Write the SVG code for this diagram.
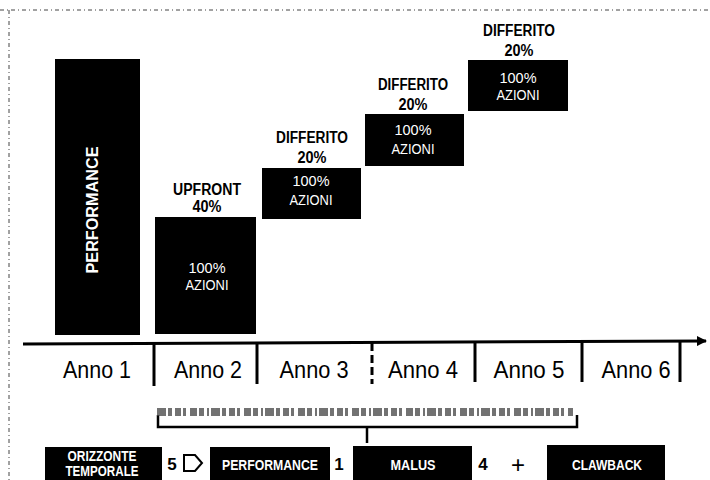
<svg xmlns="http://www.w3.org/2000/svg" width="710" height="480" viewBox="0 0 710 480">
<defs>
<style>
.box{fill:#000;}
.lbl{font-family:"Liberation Sans",Arial,sans-serif;font-weight:bold;font-size:16px;fill:#000;text-anchor:middle;}
.inn{font-family:"Liberation Sans",Arial,sans-serif;font-size:15px;fill:#fff;text-anchor:middle;}
.anno{font-family:"Liberation Sans",Arial,sans-serif;font-size:23px;fill:#000;text-anchor:middle;}
.leg{font-family:"Liberation Sans",Arial,sans-serif;font-weight:bold;font-size:14px;fill:#fff;text-anchor:middle;}
.num{font-family:"Liberation Sans",Arial,sans-serif;font-weight:bold;font-size:17px;fill:#000;text-anchor:middle;}
.plus{font-family:"Liberation Sans",Arial,sans-serif;font-weight:normal;font-size:24px;fill:#000;text-anchor:middle;}
.tick{stroke:#000;stroke-width:3;fill:none;}
.scan{stroke:#444;stroke-width:1;fill:none;stroke-dasharray:4 3 1 3;}
</style>
<marker id="arr" markerWidth="10" markerHeight="10" refX="9" refY="5" orient="auto" markerUnits="userSpaceOnUse" viewBox="0 0 10 10">
<path d="M0,0 L10,5 L0,10 Z" fill="#000"/>
</marker>
</defs>
<rect width="710" height="480" fill="#fff"/>
<line class="scan" x1="0" y1="10" x2="710" y2="10"/>
<line class="scan" x1="9" y1="10" x2="9" y2="480"/>

<g id="connectors">
<line x1="23" y1="344" x2="706" y2="341" stroke="#000" stroke-width="3" marker-end="url(#arr)"/>
<line class="tick" x1="154" y1="343" x2="154" y2="386"/>
<line class="tick" x1="257" y1="343" x2="257" y2="384"/>
<line class="tick" x1="372" y1="343" x2="372" y2="384" stroke-dasharray="8 4" stroke-width="2"/>
<line class="tick" x1="475" y1="342" x2="475" y2="382"/>
<line class="tick" x1="582" y1="342" x2="582" y2="382"/>
<line class="tick" x1="680" y1="342" x2="680" y2="382"/>
<path d="M158,415 L158,427 L577,427 L577,415" stroke="#000" stroke-width="2.5" fill="none"/>
<line x1="367" y1="427" x2="367" y2="443" stroke="#000" stroke-width="2.5"/>
<line x1="157" y1="412" x2="573" y2="412" stroke="#444" stroke-width="8" stroke-dasharray="9 2 4 3 6 2 3 4 7 2 5 3 2 2" opacity="0.75"/>
</g>

<g id="anni">
<text class="anno" x="97" y="378" textLength="68" lengthAdjust="spacingAndGlyphs">Anno 1</text>
<text class="anno" x="208" y="378" textLength="68" lengthAdjust="spacingAndGlyphs">Anno 2</text>
<text class="anno" x="314" y="378" textLength="69" lengthAdjust="spacingAndGlyphs">Anno 3</text>
<text class="anno" x="423" y="378" textLength="70" lengthAdjust="spacingAndGlyphs">Anno 4</text>
<text class="anno" x="529" y="378" textLength="71" lengthAdjust="spacingAndGlyphs">Anno 5</text>
<text class="anno" x="636" y="378" textLength="69" lengthAdjust="spacingAndGlyphs">Anno 6</text>
</g>

<g id="performance">
<rect class="box" x="55" y="59" width="85" height="276"/>
<text font-family="Liberation Sans,Arial,sans-serif" font-weight="bold" font-size="17" fill="#fff" text-anchor="middle" textLength="127" lengthAdjust="spacingAndGlyphs" transform="translate(98,210) rotate(-90)">PERFORMANCE</text>
</g>

<g id="upfront">
<text class="lbl" x="207" y="195" textLength="68" lengthAdjust="spacingAndGlyphs">UPFRONT</text>
<text class="lbl" x="207" y="212" textLength="29" lengthAdjust="spacingAndGlyphs">40%</text>
<rect class="box" x="155" y="217" width="101" height="117"/>
<text class="inn" x="207" y="273" textLength="37" lengthAdjust="spacingAndGlyphs">100%</text>
<text class="inn" x="207" y="290" textLength="43" lengthAdjust="spacingAndGlyphs">AZIONI</text>
</g>

<g id="differito1">
<text class="lbl" x="312" y="143" textLength="72" lengthAdjust="spacingAndGlyphs">DIFFERITO</text>
<text class="lbl" x="312" y="163" textLength="29" lengthAdjust="spacingAndGlyphs">20%</text>
<rect class="box" x="262" y="168" width="99" height="51"/>
<text class="inn" x="311" y="186" textLength="37" lengthAdjust="spacingAndGlyphs">100%</text>
<text class="inn" x="311" y="205" textLength="43" lengthAdjust="spacingAndGlyphs">AZIONI</text>
</g>

<g id="differito2">
<text class="lbl" x="413" y="90" textLength="70" lengthAdjust="spacingAndGlyphs">DIFFERITO</text>
<text class="lbl" x="413" y="110" textLength="29" lengthAdjust="spacingAndGlyphs">20%</text>
<rect class="box" x="365" y="114" width="99" height="52"/>
<text class="inn" x="413" y="135" textLength="37" lengthAdjust="spacingAndGlyphs">100%</text>
<text class="inn" x="413" y="154" textLength="43" lengthAdjust="spacingAndGlyphs">AZIONI</text>
</g>

<g id="differito3">
<text class="lbl" x="519" y="36" textLength="72" lengthAdjust="spacingAndGlyphs">DIFFERITO</text>
<text class="lbl" x="519" y="56" textLength="29" lengthAdjust="spacingAndGlyphs">20%</text>
<rect class="box" x="468" y="60" width="100" height="51"/>
<text class="inn" x="518" y="83" textLength="37" lengthAdjust="spacingAndGlyphs">100%</text>
<text class="inn" x="518" y="100" textLength="43" lengthAdjust="spacingAndGlyphs">AZIONI</text>
</g>

<g id="orizzonte">
<rect class="box" x="45" y="447" width="117" height="33"/>
<text class="leg" x="102" y="461" textLength="69" lengthAdjust="spacingAndGlyphs">ORIZZONTE</text>
<text class="leg" x="102" y="476" textLength="73" lengthAdjust="spacingAndGlyphs">TEMPORALE</text>
</g>
<g id="n5">
<text class="num" x="172" y="470">5</text>
<path d="M184,455 L195,455 L202,463 L195,471 L184,471 Z" fill="none" stroke="#000" stroke-width="2"/>
</g>
<g id="perf-leg">
<rect class="box" x="210" y="447" width="120" height="33"/>
<text class="leg" x="270" y="470" textLength="96" lengthAdjust="spacingAndGlyphs">PERFORMANCE</text>
<text class="num" x="339" y="470">1</text>
</g>
<g id="malus">
<rect class="box" x="353" y="446" width="119" height="34"/>
<text class="leg" x="413" y="470" textLength="45" lengthAdjust="spacingAndGlyphs">MALUS</text>
<text class="num" x="483" y="470">4</text>
<text class="plus" x="518" y="473">+</text>
</g>
<g id="clawback">
<rect class="box" x="547" y="445" width="118" height="35"/>
<text class="leg" x="607" y="470" textLength="70" lengthAdjust="spacingAndGlyphs">CLAWBACK</text>
</g>
</svg>
